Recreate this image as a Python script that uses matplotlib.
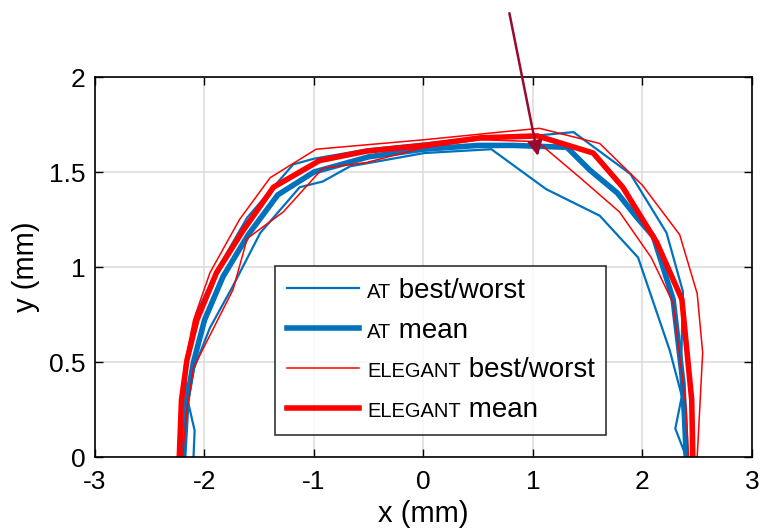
import matplotlib
matplotlib.use("Agg")
import matplotlib.pyplot as plt
from matplotlib.offsetbox import TextArea, HPacker

plt.rcParams['font.family'] = ['Liberation Sans', 'DejaVu Sans']
plt.rcParams['axes.unicode_minus'] = False

# ELEGANT mean
el_mean_x = [-2.23, -2.21, -2.16, -2.07, -1.89, -1.65, -1.37, -0.95, -0.52, 0.01, 0.52, 1.04, 1.55, 1.82, 2.13, 2.36, 2.45, 2.46]
el_mean_y = [0, 0.3, 0.51, 0.72, 0.97, 1.19, 1.42, 1.56, 1.61, 1.64, 1.68, 1.69, 1.6, 1.42, 1.13, 0.83, 0.3, 0]
# ELEGANT best (outer)
el_best_x = [-2.24, -2.22, -2.18, -2.1, -1.95, -1.68, -1.4, -0.98, 0.01, 0.7, 1.06, 1.61, 2.0, 2.34, 2.5, 2.55, 2.5]
el_best_y = [0, 0.25, 0.49, 0.72, 0.97, 1.25, 1.47, 1.62, 1.67, 1.71, 1.73, 1.65, 1.43, 1.17, 0.86, 0.55, 0]
# ELEGANT worst (inner)
el_worst_x = [-2.2, -2.16, -2.1, -1.74, -1.72, -1.61, -1.28, -0.92, -0.52, 0.01, 0.52, 1.04, 1.43, 1.79, 2.08, 2.28, 2.4, 2.42]
el_worst_y = [0, 0.25, 0.47, 0.88, 0.92, 1.15, 1.29, 1.52, 1.55, 1.63, 1.67, 1.66, 1.47, 1.29, 1.05, 0.81, 0.25, 0]

# AT mean
at_mean_x = [-2.19, -2.16, -2.1, -2.0, -1.83, -1.6, -1.33, -1.0, -0.5, 0.0, 0.5, 0.82, 1.31, 1.52, 1.77, 1.95, 2.1, 2.28, 2.37, 2.4]
at_mean_y = [0, 0.3, 0.5, 0.72, 0.95, 1.17, 1.38, 1.5, 1.58, 1.62, 1.64, 1.64, 1.63, 1.51, 1.39, 1.26, 1.16, 0.83, 0.39, 0]
# AT best (outer)
at_best_x = [-2.2, -2.18, -2.16, -2.07, -1.89, -1.61, -1.37, -1.19, -1.0, -0.5, 0.0, 0.5, 1.0, 1.37, 1.89, 2.22, 2.37, 2.35, 2.4]
at_best_y = [0, 0.25, 0.51, 0.76, 0.98, 1.26, 1.42, 1.54, 1.57, 1.62, 1.65, 1.68, 1.69, 1.71, 1.49, 1.18, 0.87, 0.4, 0]
# AT worst (inner)
at_worst_x = [-2.1, -2.09, -2.15, -2.1, -1.95, -1.74, -1.49, -1.25, -1.13, -0.92, -0.67, 0.01, 0.62, 1.12, 1.61, 1.96, 2.25, 2.36, 2.3, 2.4]
at_worst_y = [0, 0.14, 0.29, 0.46, 0.68, 0.9, 1.18, 1.34, 1.42, 1.45, 1.53, 1.6, 1.62, 1.41, 1.27, 1.05, 0.56, 0.32, 0.15, 0]

blue = '#0072BD'
red = '#FF0000'

fig = plt.figure(figsize=(7.61, 5.30), dpi=100)
ax = fig.add_axes([0.1248, 0.1377, 0.8633, 0.717])

ax.plot(at_best_x, at_best_y, color=blue, lw=1.6, label='best/worst')
ax.plot(at_worst_x, at_worst_y, color=blue, lw=1.6)
ax.plot(at_mean_x, at_mean_y, color=blue, lw=4.0, label='mean')
ax.plot(el_best_x, el_best_y, color=red, lw=1.1, label='best/worst')
ax.plot(el_worst_x, el_worst_y, color=red, lw=1.1)
ax.plot(el_mean_x, el_mean_y, color=red, lw=4.0, label='mean')

ax.set_xlim(-3, 3)
ax.set_ylim(0, 2)
ax.set_xticks([-3, -2, -1, 0, 1, 2, 3])
ax.set_yticks([0, 0.5, 1, 1.5, 2])
ax.set_yticklabels(['0', '0.5', '1', '1.5', '2'])
ax.grid(True, color='#dedede', lw=1.2)
ax.set_axisbelow(True)
ax.tick_params(direction='in', top=True, right=True, length=6, width=1.0, labelsize=19)
ax.tick_params(axis='x', pad=9)
ax.tick_params(axis='y', pad=7)
for s in ax.spines.values():
    s.set_linewidth(1.2)
ax.set_xlabel('x (mm)', fontsize=21, labelpad=5)
ax.set_ylabel('y (mm)', fontsize=21, labelpad=6)

ax.annotate('', xy=(1.05, 1.57), xytext=(0.78, 2.35),
            arrowprops=dict(arrowstyle='-|>', color='#990a2c', lw=1.8, mutation_scale=22),
            annotation_clip=False)

handles, labels = ax.get_legend_handles_labels()
leg = ax.legend(handles, labels, loc='lower left', bbox_to_anchor=(0.274, 0.058), borderaxespad=0,
                fontsize=20, frameon=True, fancybox=False, edgecolor='black',
                handlelength=2.6, handletextpad=0.3, labelspacing=0.5, borderpad=0.42)
leg.get_frame().set_linewidth(1.2)

# small caps prefixes in front of legend labels
prefixes = ['AT', 'AT', 'ELEGANT', 'ELEGANT']
rows = leg._legend_handle_box.get_children()[0].get_children()
for row, pre, lab in zip(rows, prefixes, labels):
    kids = row.get_children()
    small = TextArea(pre, textprops=dict(fontsize=14.5, family=['Liberation Sans', 'DejaVu Sans']))
    big = TextArea(' ' + lab, textprops=dict(fontsize=20, family=['Liberation Sans', 'DejaVu Sans']))
    pack = HPacker(children=[small, big], pad=0, sep=0, align='baseline')
    pack.set_figure(fig)
    kids[1] = pack

fig.savefig('out.png', dpi=100)
